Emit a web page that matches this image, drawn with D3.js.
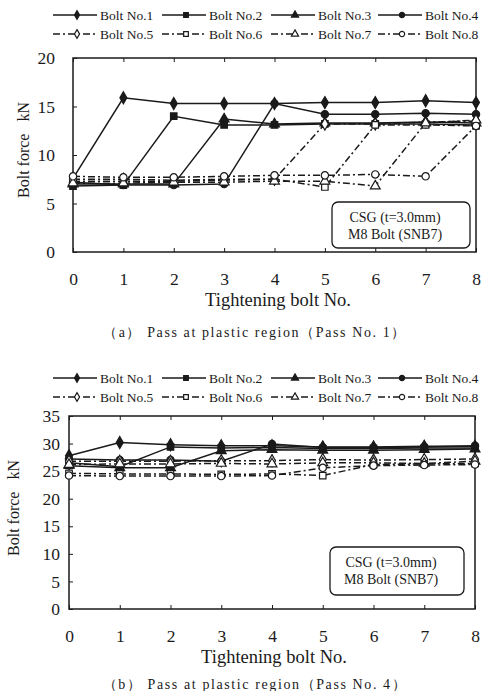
<!DOCTYPE html>
<html>
<head>
<meta charset="utf-8">
<script src="https://cdn.jsdelivr.net/npm/d3@7"></script>
<style>
  body { margin: 0; background: #fff; }
  svg { display: block; font-family: "Liberation Serif", "DejaVu Serif", serif; }
</style>
</head>
<body>
<div id="chart"></div>
<script>
// tightening steps (x axis)
var steps = [0, 1, 2, 3, 4, 5, 6, 7, 8];
var boltNames = ["Bolt No.1", "Bolt No.2", "Bolt No.3", "Bolt No.4",
                 "Bolt No.5", "Bolt No.6", "Bolt No.7", "Bolt No.8"];

// (a) Pass No. 1, bolt force kN, one row per bolt
var passOne = [
  [7.6, 15.9, 15.3, 15.3, 15.3, 15.4, 15.4, 15.6, 15.4],
  [6.8, 6.9, 14.0, 13.1, 13.1, 13.2, 13.2, 13.2, 13.1],
  [7.0, 7.0, 7.0, 13.7, 13.2, 13.3, 13.3, 13.4, 13.3],
  [7.2, 6.9, 6.9, 7.0, 15.3, 14.2, 14.2, 14.3, 14.2],
  [7.5, 7.5, 7.4, 7.5, 7.5, 13.2, 13.2, 13.4, 13.5],
  [7.3, 7.3, 7.3, 7.4, 7.5, 6.7, 13.1, 13.1, 13.0],
  [7.1, 7.1, 7.2, 7.2, 7.3, 7.3, 6.8, 13.3, 13.6],
  [7.8, 7.7, 7.7, 7.8, 7.9, 7.9, 8.0, 7.8, 13.0]
];

// (b) Pass No. 4
var passFour = [
  [27.8, 30.2, 29.8, 29.6, 29.6, 29.4, 29.4, 29.5, 29.5],
  [26.5, 25.8, 29.4, 29.2, 29.3, 29.1, 29.1, 29.2, 29.2],
  [26.0, 25.6, 25.6, 28.7, 28.9, 28.8, 28.8, 28.9, 29.0],
  [27.2, 27.0, 27.0, 26.8, 29.9, 29.3, 29.3, 29.4, 29.6],
  [26.8, 26.8, 26.8, 26.9, 26.9, 27.1, 27.0, 27.1, 27.2],
  [24.6, 24.5, 24.5, 24.4, 24.5, 24.2, 26.2, 26.3, 26.4],
  [26.2, 26.3, 26.3, 26.4, 26.3, 26.5, 26.5, 26.4, 26.8],
  [24.2, 24.1, 24.1, 24.1, 24.2, 25.6, 26.0, 26.1, 26.2]
];

var yTicksA = [0, 5, 10, 15, 20];
var yTicksB = [0, 5, 10, 15, 20, 25, 30, 35];
var noteLines = ["CSG (t=3.0mm)", "M8 Bolt (SNB7)"];
var captionA = "（a）  Pass at plastic region（Pass No. 1）";
var captionB = "（b）  Pass at plastic region（Pass No. 4）";

var W = 485, H = 691;
var ink = "#1a1a1a";
var symbols = [d3.symbolDiamond, d3.symbolSquare, d3.symbolTriangle, d3.symbolCircle];

var svg = d3.select("#chart").append("svg")
  .attr("width", W).attr("height", H);

function styleOf(i) {
  return {
    dash: i < 4 ? null : "7,3,2,3",
    fill: i < 4 ? ink : "#fff",
    sym: symbols[i % 4]
  };
}

function drawLegend(top, rowGap) {
  var g = svg.append("g");
  var starts = [53, 162, 271, 378];
  boltNames.forEach(function(name, i) {
    var st = styleOf(i);
    var x0 = starts[i % 4], y0 = top + (i < 4 ? 0 : rowGap);
    g.append("line")
      .attr("x1", x0).attr("x2", x0 + 44)
      .attr("y1", y0).attr("y2", y0)
      .attr("stroke", ink).attr("stroke-width", 1.3)
      .attr("stroke-dasharray", st.dash);
    g.append("path")
      .attr("d", d3.symbol().type(st.sym).size(22)())
      .attr("transform", "translate(" + (x0 + 24) + "," + y0 + ")")
      .attr("fill", st.fill).attr("stroke", ink).attr("stroke-width", 1.2);
    g.append("text")
      .attr("x", x0 + 47).attr("y", y0 + 4.5)
      .attr("font-size", "13.5px").attr("fill", ink)
      .text(name);
  });
}

function drawPanel(p) {
  var x = d3.scaleLinear().domain([0, 8]).range([p.left, p.right]);
  var y = d3.scaleLinear().domain([0, p.yMax]).range([p.bottom, p.top]);
  var g = svg.append("g");

  // frame
  g.append("rect")
    .attr("x", p.left).attr("y", p.top)
    .attr("width", p.right - p.left).attr("height", p.bottom - p.top)
    .attr("fill", "none").attr("stroke", ink).attr("stroke-width", 1.5);

  // axes with inner ticks
  g.append("g")
    .attr("transform", "translate(0," + p.bottom + ")")
    .call(d3.axisBottom(x).tickValues(steps).tickSize(-4).tickPadding(21).tickFormat(d3.format("d")))
    .call(function(a) {
      a.select(".domain").remove();
      a.selectAll("line").attr("stroke", ink);
      a.selectAll("text").attr("font-size", "17.5px").attr("fill", ink)
        .attr("font-family", "Liberation Serif");
    });
  g.append("g")
    .attr("transform", "translate(0," + p.top + ")")
    .call(d3.axisTop(x).tickValues(steps).tickSize(-4).tickFormat(""))
    .call(function(a) {
      a.select(".domain").remove();
      a.selectAll("line").attr("stroke", ink);
    });
  g.append("g")
    .attr("transform", "translate(" + p.left + ",0)")
    .call(d3.axisLeft(y).tickValues(p.yTicks).tickSize(-4).tickPadding(p.yPad))
    .call(function(a) {
      a.select(".domain").remove();
      a.selectAll("line").attr("stroke", ink);
      a.selectAll("text").attr("font-size", "17.5px").attr("fill", ink)
        .attr("font-family", "Liberation Serif");
    });

  // axis titles
  g.append("text")
    .attr("x", p.titleX).attr("y", p.bottom + 54)
    .attr("text-anchor", "middle").attr("font-size", "18.5px").attr("fill", ink)
    .text("Tightening bolt No.");
  g.append("text")
    .attr("transform", "translate(" + p.yLabelX + "," + p.yLabelY + ") rotate(-90)")
    .attr("text-anchor", "middle").attr("font-size", "16px").attr("fill", ink)
    .attr("xml:space", "preserve")
    .text("Bolt force   kN");

  // note box
  var nb = p.note;
  g.append("rect")
    .attr("x", nb[0]).attr("y", nb[1]).attr("width", nb[2]).attr("height", nb[3])
    .attr("rx", 6).attr("fill", "#fff").attr("stroke", ink).attr("stroke-width", 1.3);
  noteLines.forEach(function(t, k) {
    g.append("text")
      .attr("x", nb[0] + nb[2] / 2 - 6).attr("y", nb[1] + 20 + k * 16.5)
      .attr("text-anchor", "middle").attr("font-size", "14px").attr("fill", ink)
      .text(t);
  });

  // series
  var line = d3.line().x(function(d, j) { return x(steps[j]); }).y(function(d) { return y(d); });
  p.data.forEach(function(vals, i) {
    var st = styleOf(i);
    g.append("path")
      .attr("d", line(vals))
      .attr("fill", "none").attr("stroke", ink).attr("stroke-width", 1.5)
      .attr("stroke-dasharray", st.dash);
  });
  p.data.forEach(function(vals, i) {
    var st = styleOf(i);
    g.selectAll(null).data(vals).enter().append("path")
      .attr("d", d3.symbol().type(st.sym).size(42)())
      .attr("transform", function(d, j) { return "translate(" + x(steps[j]) + "," + y(d) + ")"; })
      .attr("fill", st.fill).attr("stroke", ink).attr("stroke-width", 1.2);
  });

  // caption
  svg.append("text")
    .attr("x", 255).attr("y", p.captionY)
    .attr("text-anchor", "middle").attr("font-size", "14px").attr("fill", ink)
    .attr("letter-spacing", "1.6px")
    .text(p.caption);
}

drawLegend(15, 19);
drawPanel({
  left: 73, right: 476, top: 58, bottom: 252, yMax: 20, yTicks: yTicksA, yPad: 18,
  data: passOne, titleX: 278, yLabelX: 29, yLabelY: 150,
  note: [332, 202, 138, 46], caption: captionA, captionY: 337
});

drawLegend(378, 19);
drawPanel({
  left: 69, right: 475, top: 416, bottom: 609, yMax: 35, yTicks: yTicksB, yPad: 9,
  data: passFour, titleX: 274, yLabelX: 19, yLabelY: 508,
  note: [330, 547, 134, 48], caption: captionB, captionY: 689
});
</script>
</body>
</html>
